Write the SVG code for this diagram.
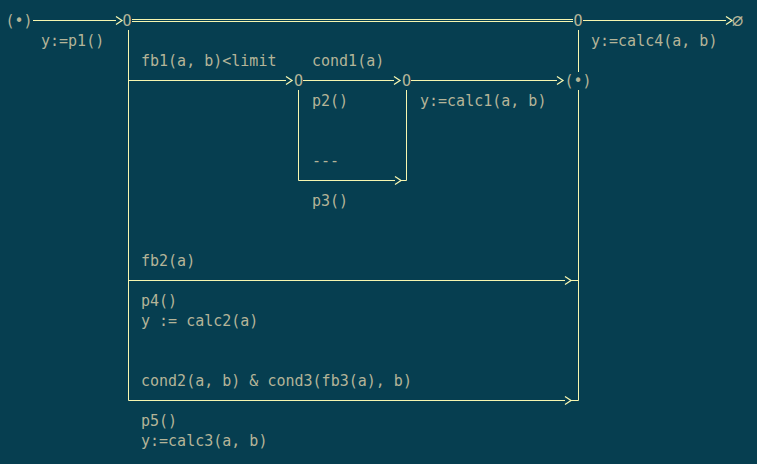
<svg xmlns="http://www.w3.org/2000/svg" width="757" height="464" viewBox="0 0 757 464">
  <defs>
    <marker id="chev" markerUnits="userSpaceOnUse" viewBox="-1 -5 9 10" refX="0" refY="0" markerWidth="9" markerHeight="10" orient="auto" overflow="visible">
      <path d="M0,-4 L6,0 L0,4" fill="none" stroke="#f6f6b0" stroke-width="1.3"/>
    </marker>
  </defs>
  <style>
    .ln { fill: none; stroke: #f6f6b0; stroke-width: 1; }
    .ar { marker-end: url(#chev); }
    .t { font-family: "DejaVu Sans Mono", "Liberation Mono", monospace; font-size: 15px; fill: #b4b498; }
    .n { text-anchor: middle; }
    .big { font-size: 19px; }
  </style>
  <rect width="757" height="464" fill="#063e50"/>

  <g id="connectors">
    <path class="ln ar" d="M33,20.5 H116"/>
    <path class="ln" d="M132,19.5 H573 M132,21.5 H573"/>
    <path class="ln ar" d="M583,20.5 H726"/>
    <path class="ln" d="M128.5,30 V400.5"/>
    <path class="ln" d="M578.5,30 V72 M578.5,90 V400.5"/>
    <path class="ln ar" d="M128,80.5 H286"/>
    <path class="ln ar" d="M303,80.5 H394"/>
    <path class="ln ar" d="M411,80.5 H557"/>
    <path class="ln ar" d="M298.5,90 V180.5 H395"/>
    <path class="ln" d="M401,180.5 H406.5 V90"/>
    <path class="ln ar" d="M128.5,280.5 H565"/>
    <path class="ln" d="M571,280.5 H578.5"/>
    <path class="ln ar" d="M128.5,400.5 H565"/>
    <path class="ln" d="M571,400.5 H578.5"/>
  </g>

  <g id="start"><text class="t n" x="19" y="26">(•)</text></g>
  <g id="fork"><text class="t n" x="127" y="26">O</text></g>
  <g id="merge"><text class="t n" x="578" y="26">O</text></g>
  <g id="end"><text class="t n big" x="737.5" y="27">∅</text></g>
  <g id="cond1-in"><text class="t n" x="298.5" y="86">O</text></g>
  <g id="cond1-out"><text class="t n" x="406.5" y="86">O</text></g>
  <g id="join"><text class="t n" x="578" y="86">(•)</text></g>

  <g id="labels">
    <text class="t" x="41" y="46">y:=p1()</text>
    <text class="t" x="591" y="46">y:=calc4(a, b)</text>
    <text class="t" x="141" y="66">fb1(a, b)&lt;limit</text>
    <text class="t" x="312" y="66">cond1(a)</text>
    <text class="t" x="312" y="106">p2()</text>
    <text class="t" x="420" y="106">y:=calc1(a, b)</text>
    <text class="t" x="312" y="166">---</text>
    <text class="t" x="312" y="206">p3()</text>
    <text class="t" x="141" y="266">fb2(a)</text>
    <text class="t" x="141" y="306">p4()</text>
    <text class="t" x="141" y="326">y := calc2(a)</text>
    <text class="t" x="141" y="386">cond2(a, b) &amp; cond3(fb3(a), b)</text>
    <text class="t" x="141" y="426">p5()</text>
    <text class="t" x="141" y="446">y:=calc3(a, b)</text>
  </g>
</svg>
